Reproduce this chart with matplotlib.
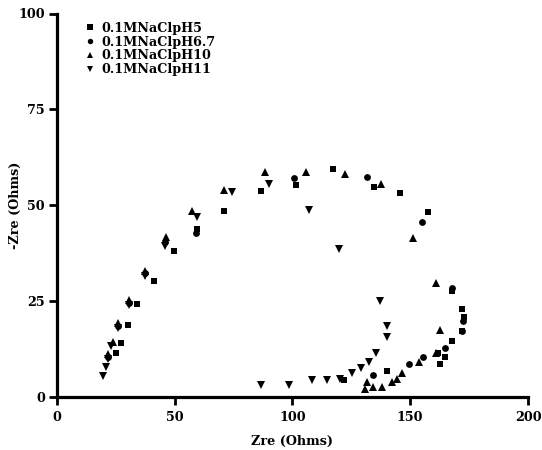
import matplotlib
matplotlib.use("Agg")
import matplotlib.pyplot as plt
from matplotlib.lines import Line2D

# ---- data ----
labels = ["0.1MNaClpH5", "0.1MNaClpH6.7", "0.1MNaClpH10", "0.1MNaClpH11"]

x_ph5 = [25.1, 27.2, 30.2, 34.2, 41.1, 49.6, 59.6, 71.2, 86.7, 101.5, 117.2, 134.6,
         145.6, 157.7, 167.6, 172.0, 172.9, 171.8, 167.9, 161.9, 164.8, 162.7, 140.3, 121.8]
y_ph5 = [11.6, 14.1, 18.8, 24.3, 30.4, 38.1, 43.8, 48.5, 53.8, 55.2, 59.5, 54.8,
         53.3, 48.3, 27.8, 22.9, 21.0, 17.3, 14.7, 11.6, 10.4, 8.7, 6.8, 4.5]

x_ph67 = [21.7, 26.2, 30.8, 37.3, 46.0, 59.1, 100.5, 131.6, 154.9, 167.6, 172.5,
          171.8, 164.9, 155.6, 149.3, 134.2]
y_ph67 = [10.6, 18.7, 24.7, 32.3, 40.5, 42.7, 57.2, 57.4, 45.7, 28.5, 19.9,
          17.3, 12.9, 10.6, 8.6, 5.8]

x_ph10 = [21.7, 23.9, 26.2, 30.8, 37.3, 46.5, 57.3, 71.1, 88.4, 105.6, 122.2, 137.7,
          151.0, 160.8, 162.8, 160.8, 153.8, 146.7, 144.3, 142.2, 138.0, 134.1, 131.0, 131.6]
y_ph10 = [11.3, 14.5, 19.3, 25.3, 33.0, 41.7, 48.6, 54.0, 58.6, 58.6, 58.2, 55.5,
          41.4, 29.7, 17.5, 11.6, 9.3, 6.4, 4.7, 4.1, 2.6, 2.6, 2.3, 4.1]

x_ph11 = [19.7, 20.8, 21.7, 23.2, 26.2, 30.8, 37.3, 45.8, 59.6, 74.2, 90.2, 106.9,
          119.9, 137.0, 140.1, 140.1, 135.6, 132.4, 129.3, 125.3, 120.1, 114.7, 108.4,
          98.6, 86.9]
y_ph11 = [5.6, 7.8, 10.0, 13.4, 18.0, 24.0, 31.6, 39.4, 47.0, 53.4, 55.7, 48.8,
          38.7, 25.1, 18.6, 15.8, 11.6, 9.1, 7.6, 6.3, 4.9, 4.4, 4.4, 3.3, 3.3]

x_ticks = [0, 50, 100, 150, 200]
y_ticks = [0, 25, 50, 75, 100]

# ---- style ----
FONT = "DejaVu Serif"
FS = 9.2
plt.rcParams["font.family"] = FONT
plt.rcParams["font.weight"] = "bold"

fig = plt.figure(figsize=(5.42, 4.5), dpi=100)
ax = fig.add_axes([0.1046, 0.117, 0.8696, 0.853])

series = [
    (x_ph5, y_ph5, "s", 5.0),
    (x_ph67, y_ph67, "o", 4.9),
    (x_ph10, y_ph10, "^", 6.0),
    (x_ph11, y_ph11, "v", 6.0),
]
handles = []
for (xs, ys, mk, ms), lab in zip(series, labels):
    ax.plot(xs, ys, linestyle="none", marker=mk, markersize=ms,
            color="black", markeredgewidth=0, clip_on=False)
    handles.append(Line2D([], [], linestyle="none", marker=mk,
                          markersize=ms * 0.8, color="black",
                          markeredgewidth=0, label=lab))

ax.set_xlim(0, 200)
ax.set_ylim(0, 100)
ax.set_xticks(x_ticks)
ax.set_yticks(y_ticks)

for s in ["top", "right"]:
    ax.spines[s].set_visible(False)
for s in ["left", "bottom"]:
    ax.spines[s].set_linewidth(2.3)

ax.tick_params(axis="both", direction="out", length=6, width=2.0,
               labelsize=FS, colors="black")
ax.tick_params(axis="y", pad=2.5)
ax.tick_params(axis="x", pad=4.0)
for lab in ax.get_xticklabels() + ax.get_yticklabels():
    lab.set_fontweight("bold")

ax.set_xlabel("Zre (Ohms)", fontsize=FS, fontweight="bold")
ax.set_ylabel("-Zre (Ohms)", fontsize=FS, fontweight="bold")
ax.xaxis.set_label_coords(0.5, -0.114)
ax.xaxis.label.set_va("center")
ax.yaxis.set_label_coords(-0.087, 0.5)
ax.yaxis.label.set_va("center")

leg = ax.legend(handles=handles, loc="upper left",
                bbox_to_anchor=(0.057, 0.985), frameon=False,
                fontsize=FS, handlelength=0.6, handletextpad=0.6,
                labelspacing=0.06, borderaxespad=0.0, borderpad=0.2)
for t in leg.get_texts():
    t.set_fontweight("bold")

fig.savefig("out.png", dpi=100)
